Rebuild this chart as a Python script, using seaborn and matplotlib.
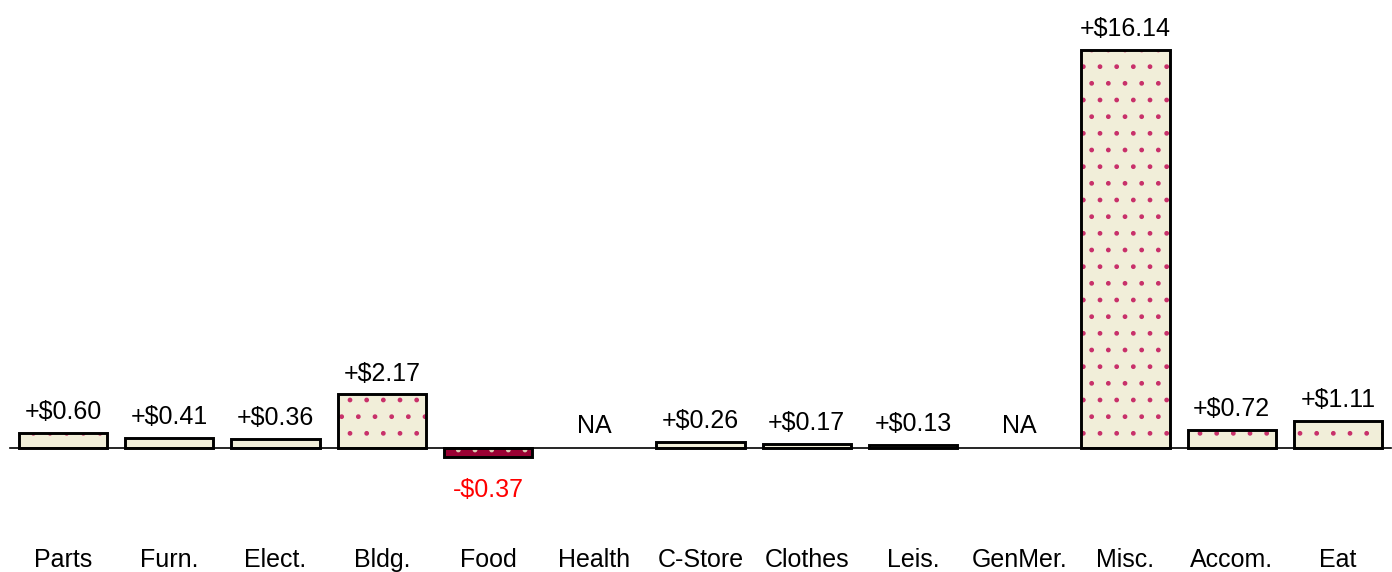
import matplotlib
matplotlib.use('Agg')
import matplotlib.pyplot as plt
import matplotlib.transforms as mtransforms
import numpy as np
import pandas as pd
import seaborn as sns

# 数据
categories = ['Parts', 'Furn.', 'Elect.', 'Bldg.', 'Food', 'Health', 'C-Store',
              'Clothes', 'Leis.', 'GenMer.', 'Misc.', 'Accom.', 'Eat']
values = [0.60, 0.41, 0.36, 2.17, -0.37, np.nan, 0.26, 0.17, 0.13, np.nan,
          16.14, 0.72, 1.11]

beige = '#F1EED9'
dot_red = '#C8306A'
crimson = '#990033'

sns.set_style('white')
plt.rcParams['font.family'] = ['Liberation Sans', 'DejaVu Sans']
plt.rcParams['text.color'] = 'black'

fig = plt.figure(figsize=(13.92, 5.72), dpi=100)
ax = fig.add_axes([10 / 1392, 0, 1381 / 1392, 1])

df = pd.DataFrame({'cat': categories, 'val': values}).dropna()
bar_w = 0.83
sns.barplot(data=df, x='cat', y='val', order=categories, width=bar_w,
            color=beige, ax=ax, errorbar=None, saturation=1)

# 填充点状图案
for p in ax.patches:
    idx = int(round(p.get_x() + p.get_width() / 2))
    p.set_hatch('.')
    p.set_linewidth(0)
    if values[idx] < 0:
        p.set_facecolor(crimson)
        p.set_edgecolor('#D9C9B0')
    else:
        p.set_facecolor(beige)
        p.set_edgecolor(dot_red)

# 黑色边框
xs = [i for i, v in enumerate(values) if not np.isnan(v)]
hs = [v for v in values if not np.isnan(v)]
ax.bar(xs, hs, width=bar_w, fill=False, edgecolor='black', linewidth=2.1, zorder=3)

ax.set_xlim(-0.5, len(categories) - 0.5)
ax.set_ylim(-5.03, 18.17)

# 数值标签
fs = 18
for i, v in enumerate(values):
    if np.isnan(v):
        ax.text(i, 0.9, 'NA', ha='center', va='center', fontsize=fs, color='black')
    elif v >= 0:
        ax.annotate(f'+${v:.2f}', (i, v), xytext=(0, 15), textcoords='offset points',
                    ha='center', va='center', fontsize=fs, color='black')
    else:
        ax.annotate(f'-${abs(v):.2f}', (i, v), xytext=(0, -23.5), textcoords='offset points',
                    ha='center', va='center', fontsize=fs, color='red')

# 坐标轴
for s in ['left', 'top', 'right']:
    ax.spines[s].set_visible(False)
ax.spines['bottom'].set_position(('data', 0))
ax.spines['bottom'].set_color('black')
ax.spines['bottom'].set_linewidth(1.2)
ax.set_yticks([])
ax.set_xlabel('')
ax.set_ylabel('')

ax.set_xticks(range(len(categories)))
ax.set_xticklabels([])
ax.set_xticks(np.arange(-0.5, len(categories), 1), minor=True)
ax.tick_params(axis='x', which='major', length=0)
ax.tick_params(axis='x', which='minor', length=6, width=1.2, color='#999999', direction='out')

trans = mtransforms.blended_transform_factory(ax.transData, ax.transAxes)
for i, c in enumerate(categories):
    ax.text(i, 12 / 572, c, transform=trans, ha='center', va='center', fontsize=fs, color='black')

plt.savefig('out.png', dpi=100)
